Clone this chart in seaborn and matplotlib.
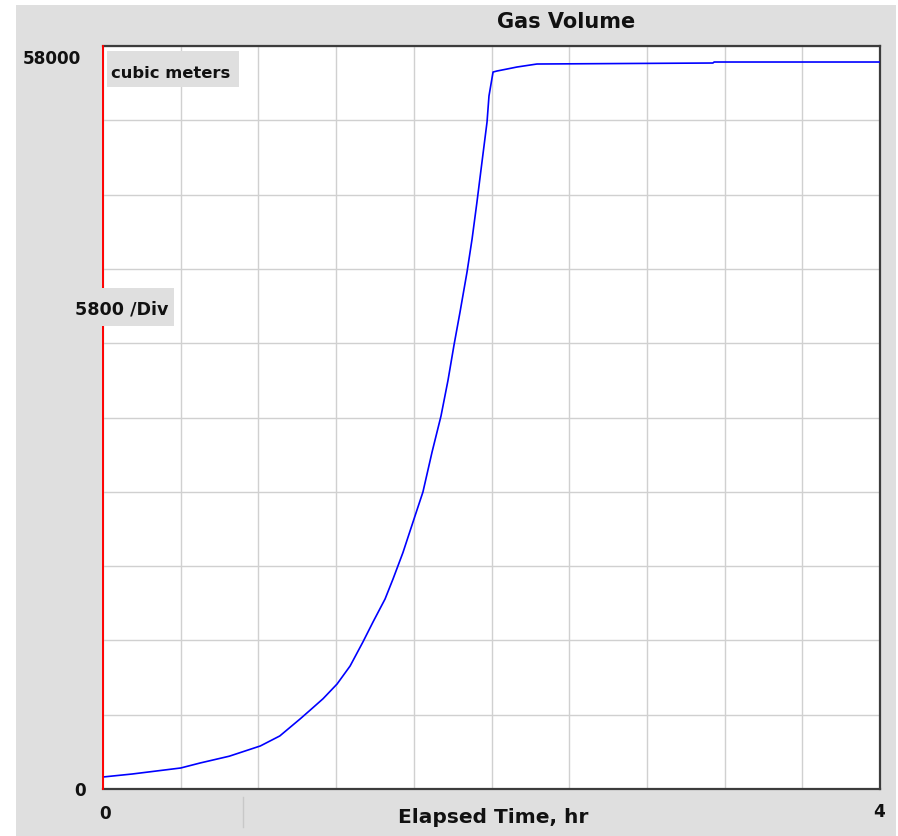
import matplotlib
matplotlib.use("Agg")
import matplotlib.pyplot as plt
from matplotlib.patches import Rectangle
from matplotlib.lines import Line2D
import numpy as np
import pandas as pd
import seaborn as sns

# ---- data ----
time_hr = [0.0, 0.15, 0.4, 0.5, 0.65, 0.81, 0.91, 1.014, 1.066, 1.133, 1.205,
           1.272, 1.338, 1.390, 1.452, 1.493, 1.544, 1.601, 1.647, 1.694, 1.740,
           1.776, 1.807, 1.838, 1.874, 1.900, 1.925, 1.951, 1.977, 1.987, 2.008,
           2.028, 2.080, 2.131, 2.234, 3.140, 3.146, 4.0]
gas_volume = [937, 1170, 1640, 2030, 2560, 3360, 4140, 5460, 6150, 7050, 8196,
              9600, 11475, 13036, 14831, 16393, 18450, 21076, 23184, 26306, 29116,
              31900, 34659, 37235, 40356, 42933, 45800, 48944, 52066, 54096, 55969,
              56047, 56203, 56359, 56594, 56672, 56750, 56750]

title = "Gas Volume"
x_label = "Elapsed Time, hr"
unit_label = "cubic meters"
div_label = "5800 /Div"
y_max_label = "58000"
y_min_label = "0"
x_min_label = "0"
x_max_label = "4"

x_max = 4.0
y_max = 58000
n_div = 10

df = pd.DataFrame({"time": time_hr, "volume": gas_volume})

W, H = 898, 837
fig = plt.figure(figsize=(W / 100, H / 100), dpi=100, facecolor="white")


def fx(px):
    return px / W


def fy(py):
    return 1 - py / H


BG = "#dfdfdf"
fig.patches.append(Rectangle((fx(16), 0), fx(896) - fx(16), fy(6), transform=fig.transFigure,
                             facecolor=BG, edgecolor="none", zorder=-10))

left, right, top, bottom = 103, 880, 47, 790
ax = fig.add_axes([fx(left), fy(bottom), fx(right) - fx(left), fy(top) - fy(bottom)])
ax.set_facecolor("white")

sns.lineplot(data=df, x="time", y="volume", ax=ax, color="#0000ff", linewidth=1.2,
             estimator=None, zorder=3)

ax.set_xlim(0, x_max)
ax.set_ylim(0, y_max)
ax.set_xticks(np.linspace(0, x_max, n_div + 1))
ax.set_yticks(np.linspace(0, y_max, n_div + 1))
ax.tick_params(length=0, labelbottom=False, labelleft=False)
ax.set_xlabel("")
ax.set_ylabel("")
ax.grid(True, color="#d0d0d0", linewidth=1.0, zorder=0)
ax.set_axisbelow(True)
for s in ["top", "right", "bottom"]:
    ax.spines[s].set_color("#3c3c3c")
    ax.spines[s].set_linewidth(1.6)
ax.spines["left"].set_color("#ff0000")
ax.spines["left"].set_linewidth(1.4)
ax.spines["left"].set_zorder(4)

FONT = "DejaVu Sans"

# title
fig.text(fx(566), fy(28), title, ha="center", va="baseline", fontsize=15,
         fontweight="bold", family=FONT, color="#111111")

# y-axis limits
fig.text(fx(23), fy(64), y_max_label, ha="left", va="baseline", fontsize=12.2,
         fontweight="bold", family=FONT, color="#111111")
fig.text(fx(80), fy(796), y_min_label, ha="center", va="baseline", fontsize=12.2,
         fontweight="bold", family=FONT, color="#111111")

# unit box
fig.patches.append(Rectangle((fx(107), fy(88)), fx(239) - fx(107), fy(52) - fy(88),
                             transform=fig.transFigure, facecolor=BG, edgecolor="none", zorder=5))
fig.text(fx(111), fy(78), unit_label, ha="left", va="baseline", fontsize=11.8,
         fontweight="bold", family=FONT, color="#111111", zorder=6)

# per-division box
fig.patches.append(Rectangle((fx(66), fy(327)), fx(174) - fx(66), fy(289) - fy(327),
                             transform=fig.transFigure, facecolor=BG, edgecolor="none", zorder=5))
fig.text(fx(168), fy(315), div_label, ha="right", va="baseline", fontsize=12.6,
         fontweight="bold", family=FONT, color="#111111", zorder=6)

# x-axis limits and label
fig.text(fx(105), fy(819), x_min_label, ha="center", va="baseline", fontsize=12.2,
         fontweight="bold", family=FONT, color="#111111")
fig.text(fx(879), fy(817), x_max_label, ha="center", va="baseline", fontsize=12.2,
         fontweight="bold", family=FONT, color="#111111")
fig.text(fx(493), fy(823), x_label, ha="center", va="baseline", fontsize=14.5,
         fontweight="bold", family=FONT, color="#111111")

# faint divider under the axis
fig.lines.append(Line2D([fx(243), fx(243)], [fy(798), fy(828)], transform=fig.transFigure,
                        color="#c8c8c8", linewidth=1.0))

fig.savefig("out.png", dpi=100, facecolor="white")
